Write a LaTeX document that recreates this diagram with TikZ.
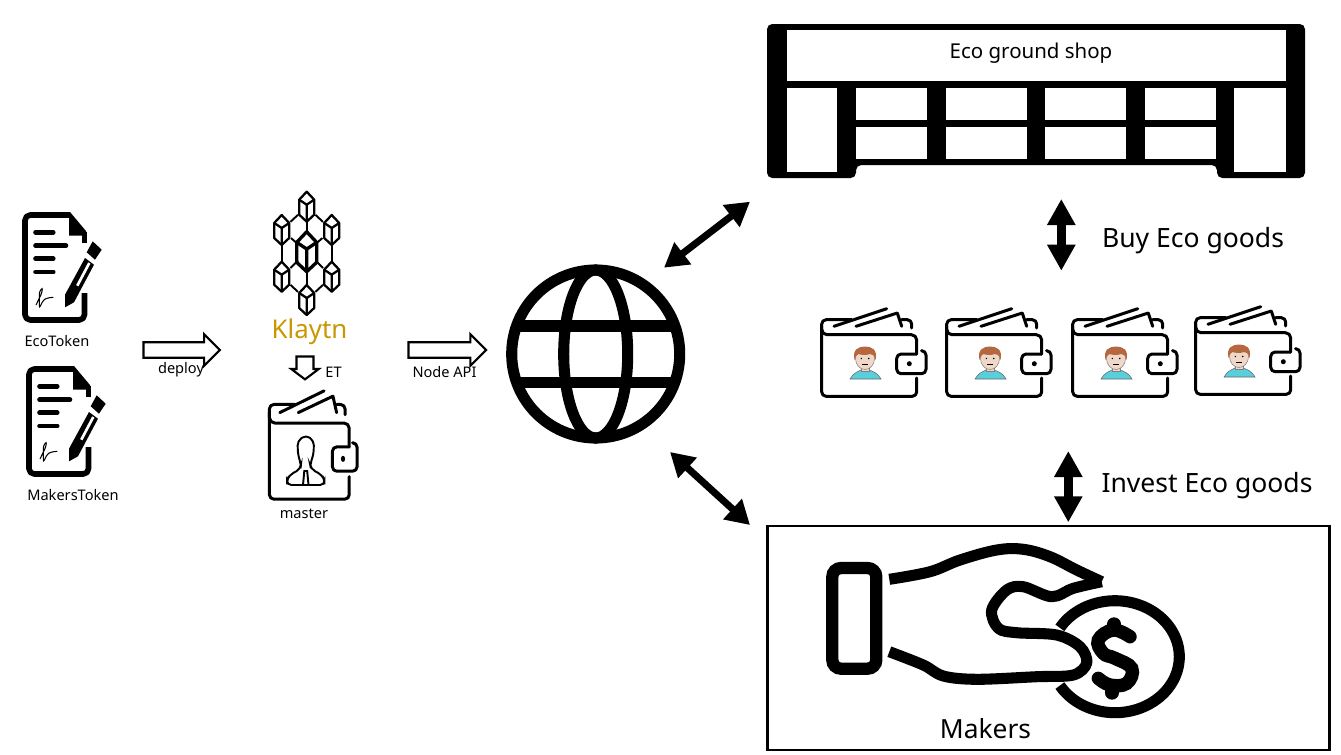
\documentclass[tikz,border=0pt]{standalone}
\usepackage{fontspec}
\setmainfont{Noto Sans}
\usetikzlibrary{arrows.meta,shapes.arrows}
\definecolor{klay_gold}{RGB}{201, 151, 0}
\definecolor{face_skin}{RGB}{240, 216, 200}
\definecolor{face_hair}{RGB}{181, 103, 63}
\definecolor{face_shirt}{RGB}{90, 207, 220}
\tikzstyle{smalllbl}=[inner sep=0pt,font=\fontsize{8.3}{10}\selectfont]
\tikzstyle{biglbl}=[inner sep=0pt,font=\fontsize{15.1}{18}\selectfont]
\tikzstyle{blockarrow}=[single arrow,draw=black,fill=white,line width=1.2pt,inner sep=0pt,outer sep=0pt,
  single arrow tip angle=90,anchor=tail]
\tikzstyle{diagboth}=[{Triangle[width=15pt,length=13.5pt]}-{Triangle[width=15pt,length=13.5pt]},line width=4pt]
\tikzstyle{vertboth}=[{Triangle[width=15.2pt,length=14.8pt]}-{Triangle[width=15.2pt,length=14.8pt]},line width=5.1pt]
\tikzstyle{walletline}=[line width=1.7pt,line cap=round,line join=round,rounded corners=2.5pt]
\tikzstyle{handline}=[line width=6.3pt,line join=round]
\tikzstyle{cubeline}=[line width=1.3pt,line join=round]
\tikzset{
  docicon/.pic={
    \draw[line width=3.2pt,line join=round,rounded corners=2pt] (62.5,20) -- (62.5,31);
    \draw[line width=3.2pt,line join=round,rounded corners=3pt] (62.5,81) -- (62.5,108) -- (3,108) -- (3,3) -- (48,3);
    \fill (47,2) -- (47,23.7) -- (64.2,23.7) -- (64.2,19.3) -- (48,0) -- cycle;
    \foreach \ya/\xb in {20.3/31.3,33.7/44,46.7/31.3,60/31.3}
      \draw[line width=2.6pt,line cap=round] (13.5,\ya) -- (\xb,\ya);
    \draw[line width=.6pt,rounded corners=1.5pt] (14,93) -- (19.7,81.3) -- (20.7,75.3) -- (17.3,79.7)
      -- (17.3,96.3) -- (21.3,88) -- (25,86) -- (31.3,85.3);
    \fill (43,95.3) -- (43,82.7) -- (63,46) -- (72,52.7) -- (52,90.3) -- cycle;
    \draw[white,line width=1.5pt] (55.3,73.7) -- (67.3,51);
    \fill (70.7,29.3) -- (79.7,37.7) -- (73,47.7) -- (64.7,40.3) -- cycle;
  },
  cubeicon/.pic={
    \draw[style=cubeline] (0,-15) -- (7.5,-7) -- (7.5,8) -- (0,15) -- (-7.5,8) -- (-7.5,-7) -- cycle;
    \draw[style=cubeline] (-7.5,-7) -- (0,-2) -- (7.5,-7) (0,-2) -- (0,15);
  },
  walleticon/.pic={
    \draw[walletline] (31.7,11.7) -- (1.7,11.7) -- (1.7,88.3) -- (96.7,88.3) -- (96.7,70);
    \draw[walletline,rounded corners=3pt] (1.7,18) -- (1.7,26.7) -- (96.7,26.7) -- (96.7,46);
    \draw[walletline] (102,42.7) -- (106,42.7) -- (106,65.7) -- (76.7,65.7) -- (76.7,46) -- (96.7,46);
    \draw[walletline,rounded corners=0pt] (14,18.3) -- (66.7,.7);
    \draw[walletline,rounded corners=0pt] (36,18.3) -- (77.3,5) -- (81.7,18.3);
    \draw[walletline] (81.7,11.7) -- (91.7,11.7) -- (91.7,20);
    \fill (89.3,55.7) circle [radius=2.5];
  },
  faceicon/.pic={
    \fill[face_shirt,draw=black!60,line width=.3pt] (30,71) .. controls (33,65) and (39,63) .. (41,62)
      -- (49,62) .. controls (52,63) and (58,65) .. (61,71) -- cycle;
    \fill[face_skin,draw=black!50,line width=.3pt] (41,56) rectangle (49,63);
    \fill[face_skin,draw=black!50,line width=.3pt] (45,50.5) ellipse [x radius=9.5,y radius=11];
    \fill[face_hair] (34.5,52) .. controls (32,41) and (39,38.5) .. (45,38.5)
      .. controls (51,38.5) and (58,41) .. (55.5,52) .. controls (54,47) and (53,46) .. (50,46)
      .. controls (46,47.5) and (41,47) .. (38.5,46) .. controls (36.5,46.5) and (36,48) .. (34.5,52) -- cycle;
    \fill (41.3,50.5) circle [radius=.8] (48.7,50.5) circle [radius=.8];
    \draw[line width=.3pt] (42,56.5) -- (48,56.5);
  }
}

\begin{document}
\begin{tikzpicture}[x=0.02cm,y=-0.02cm]
    \useasboundingbox (0,0) rectangle (1341,754);
    % contracts
    \pic at (22,212) {docicon};
    \pic at (26,366) {docicon};
    \node [style=smalllbl] (ecotoken) at (57,341) {EcoToken};
    \node [style=smalllbl] (makerstoken) at (73,495) {MakersToken};
    \node [style=blockarrow,minimum height=43.5pt,single arrow head extend=4.6pt] (deploy) at (143.5,350) {\rule{0pt}{7.6pt}};
    \node [style=smalllbl] (deploylbl) at (181,370) {deploy};
    % klaytn network
    \coordinate (ct) at (306.7,206.7);
    \coordinate (cul) at (281.7,230);
    \coordinate (cur) at (331.7,230);
    \coordinate (cc) at (306.7,251.7);
    \coordinate (cll) at (281.7,276.7);
    \coordinate (clr) at (331.7,276.7);
    \coordinate (cb) at (306.7,300);
    \draw[line width=1.1pt,shorten <=6.8pt,shorten >=6.8pt] (ct) to (cul);
    \draw[line width=1.1pt,shorten <=6.8pt,shorten >=6.8pt] (ct) to (cur);
    \draw[line width=1.1pt,shorten <=6.8pt,shorten >=6.8pt] (cb) to (cll);
    \draw[line width=1.1pt,shorten <=6.8pt,shorten >=6.8pt] (cb) to (clr);
    \draw[line width=1.1pt,shorten <=8.5pt,shorten >=8.5pt] (cul) to (cll);
    \draw[line width=1.1pt,shorten <=8.5pt,shorten >=8.5pt] (cur) to (clr);
    \draw[line width=1.1pt,shorten <=8.5pt,shorten >=11.4pt] (ct) to (cc);
    \draw[line width=1.1pt,shorten <=8.5pt,shorten >=11.4pt] (cb) to (cc);
    \draw[line width=1.1pt,shorten <=7pt,shorten >=7pt] (cul) to (cc);
    \draw[line width=1.1pt,shorten <=7pt,shorten >=7pt] (cur) to (cc);
    \draw[line width=1.1pt,shorten <=7pt,shorten >=7pt] (cll) to (cc);
    \draw[line width=1.1pt,shorten <=7pt,shorten >=7pt] (clr) to (cc);
    \foreach \cube in {ct,cul,cur,cll,clr,cb}
      \pic at (\cube) {cubeicon};
    \pic [scale=1.33,cubeline/.style={line width=1.9pt,line join=round}] at (cc) {cubeicon};
    \node [inner sep=0pt,text=klay_gold,font=\fontsize{14.7}{18}\selectfont] (klaytn) at (309.5,332) {Klaytn};
    \node [style=blockarrow,shape border rotate=270,minimum height=13pt,
      single arrow head extend=3pt,single arrow tip angle=106] (etarrow) at (305,356.5) {\rule{8.5pt}{0pt}};
    \node [style=smalllbl] (etlbl) at (333.5,372) {ET};
    \pic [xscale=.84,yscale=1.236] at (268,390) {walleticon};
    \draw[line width=1.1pt,rounded corners=2.5pt] (306,435) -- (314,441) -- (313.5,455) -- (310,464) -- (311,469)
      -- (322,475) -- (324.5,480) -- (324.5,485) -- (287,485) -- (287,480) -- (289.5,475) -- (300.5,469) -- (301,464)
      -- (298,455) -- (297.5,441) -- cycle;
    \draw[line width=1.1pt] (303,485) -- (304.3,471) -- (307.2,471) -- (308.5,485);
    \node [style=smalllbl] (masterlbl) at (304,514) {master};
    \node [style=blockarrow,minimum height=44.2pt,single arrow head extend=4.6pt] (nodeapi) at (408.5,350) {\rule{0pt}{7.6pt}};
    \node [style=smalllbl] (nodeapilbl) at (444.5,372) {Node API};
    % globe
    \coordinate (gc) at (595.7,354);
    \begin{scope}
      \clip (gc) circle [radius=84];
      \draw[line width=6.3pt] (500,326) -- (690,326) (500,382.7) -- (690,382.7);
    \end{scope}
    \draw[line width=6.3pt] (gc) circle [radius=84];
    \draw[line width=6.3pt] (gc) ellipse [x radius=32,y radius=84];
    \coordinate (shopend) at (750,201.7);
    \coordinate (globeup) at (664,267.7);
    \coordinate (globedown) at (670,452);
    \coordinate (makersend) at (750,525);
    \draw[style=diagboth] (globeup) to (shopend);
    \draw[style=diagboth] (globedown) to (makersend);
    % shop
    \fill[rounded corners=3pt] (767,24) -- (1305,24) -- (1305,178) -- (1217,178) -- (1217,165) -- (856,165)
      -- (856,178) -- (767,178) -- cycle;
    \fill[white] (787,30) rectangle (1286,81);
    \fill[white] (787,88.3) rectangle (837,171.7);
    \fill[white] (1234,88.3) rectangle (1286,171.7);
    \foreach \xa/\xb in {855.7/927,946.4/1026.8,1045/1126,1144.6/1216.4}{
      \fill[white] (\xa,88.3) rectangle (\xb,120);
      \fill[white] (\xa,126.7) rectangle (\xb,159);
    }
    \node [inner sep=0pt,font=\fontsize{11.65}{14}\selectfont] (shoplbl) at (1031,53) {Eco ground shop};
    \coordinate (buytop) at (1061.3,199);
    \coordinate (buybot) at (1061.3,270.7);
    \draw[style=vertboth] (buytop) to (buybot);
    \node [style=biglbl] (buylbl) at (1193,241) {Buy Eco goods};
    % user wallets
    \foreach \wx/\wy in {820/308,945/308,1071/308,1194/306}{
      \pic at (\wx,\wy) {walleticon};
      \pic at (\wx,\wy) {faceicon};
    }
    \coordinate (investtop) at (1068.3,451);
    \coordinate (investbot) at (1068.3,522.3);
    \draw[style=vertboth] (investtop) to (investbot);
    \node [style=biglbl] (investlbl) at (1207,486) {Invest Eco goods};
    % makers
    \node [draw=black,line width=1.4pt,minimum width=320pt,minimum height=127.4pt,inner sep=0pt] (makersbox) at (1048.5,638) {};
    \draw[line width=7pt,rounded corners=5pt] (832.3,568) rectangle (876.3,668.7);
    \draw[style=handline] plot[smooth,tension=.6] coordinates {(889.3,579.3) (930,571.7) (960,560) (996.7,550) (1023.3,549.3)
      (1050,556.7) (1076.7,570) (1101.7,581.7)};
    \draw[style=handline] plot[smooth,tension=.55] coordinates {(1101.7,581.7) (1073.3,588.3) (1051.7,596.7) (1023.3,586.7)
      (1006.7,590) (991.7,610) (998.3,628.3) (1016.7,632.7) (1056.7,635) (1080,646.7) (1086.7,663) (1073.3,675)
      (1036.7,676.7) (976.7,679.3) (943.3,676) (923.3,665) (889.3,651.7)};
    \draw[line width=6.3pt] plot[smooth,domain=-149:149,samples=50] ({1115+64.3*cos(\x)},{656.7-56*sin(\x)});
    \draw[line width=7.6pt,line cap=round] plot[smooth,tension=.7] coordinates {(1130,636.7) (1113.3,630) (1098.3,640)
      (1103.3,653.3) (1115,658.3) (1131.7,668.3) (1126.7,683.3) (1110,685) (1098.3,678.3)};
    \draw[line width=7.6pt,line cap=round] (1114,624) -- (1114,630) (1112,687) -- (1112,693);
    \node [inner sep=0pt,font=\fontsize{15}{18}\selectfont] (makerslbl) at (985.5,729) {Makers};
\end{tikzpicture}
\end{document}
